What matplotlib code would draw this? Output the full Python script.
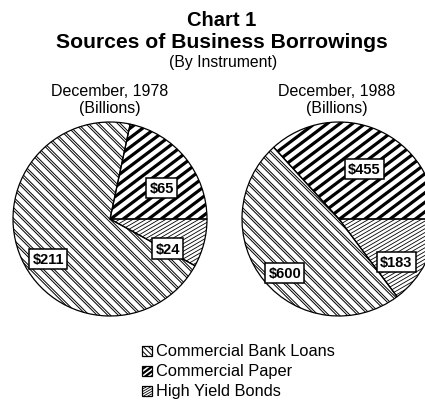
import numpy as np
import matplotlib
matplotlib.use("Agg")
import matplotlib.pyplot as plt
from matplotlib.collections import LineCollection
from matplotlib.patches import Rectangle

# ---- data ----
categories = ["Commercial Paper", "Commercial Bank Loans", "High Yield Bonds"]
years = ["December, 1978", "December, 1988"]
values_1978 = [65, 211, 24]
values_1988 = [455, 600, 183]
labels_1978 = ["$65", "$211", "$24"]
labels_1988 = ["$455", "$600", "$183"]
legend_order = ["Commercial Bank Loans", "Commercial Paper", "High Yield Bonds"]

W, H = 425, 410
fig = plt.figure(figsize=(W / 100, H / 100), dpi=100)
ax = fig.add_axes([0, 0, 1, 1])


def Y(y):
    return H - y


FONT = ['Liberation Sans Narrow', 'Liberation Sans', 'DejaVu Sans']

hatch_styles = {
    "Commercial Paper": dict(angle=37, spacing=7.6, lw=2.3, double=None),
    "Commercial Bank Loans": dict(angle=-45, spacing=7.5, lw=0.7, double=2.0),
    "High Yield Bonds": dict(angle=30, spacing=3.3, lw=0.6, double=None),
}


def hatch(ax, patch, bbox, angle, spacing, lw, double, zorder=2):
    x0, y0, x1, y1 = bbox
    cx, cy = (x0 + x1) / 2, (y0 + y1) / 2
    R = np.hypot(x1 - x0, y1 - y0) / 2 + spacing
    t = np.deg2rad(angle)
    d = np.array([np.cos(t), np.sin(t)])
    n = np.array([-np.sin(t), np.cos(t)])
    offs = np.arange(-R, R + spacing, spacing)
    if double:
        offs = np.concatenate([offs, offs + double])
    segs = [[(cx + o * n[0] - R * d[0], cy + o * n[1] - R * d[1]),
             (cx + o * n[0] + R * d[0], cy + o * n[1] + R * d[1])] for o in offs]
    lc = LineCollection(segs, colors='black', linewidths=lw, capstyle='butt', zorder=zorder)
    ax.add_collection(lc)
    lc.set_clip_path(patch)


radius = 97
pies = [
    (values_1978, labels_1978, (110, Y(220)),
     [(31, 0.62), (213, 0.76), (333, 0.67)], years[0], 110),
    (values_1988, labels_1988, (339, Y(220)),
     [(63, 0.58), (225, 0.79), (323, 0.74)], years[1], 337),
]

for vals, labs, center, lab_pos, title, tx in pies:
    wedges, _ = ax.pie(vals, startangle=0, counterclock=True, center=center,
                       radius=radius,
                       wedgeprops=dict(facecolor='white', edgecolor='none', zorder=1))
    cx, cy = center
    for w, cat in zip(wedges, categories):
        hatch(ax, w, (cx - radius, cy - radius, cx + radius, cy + radius),
              **hatch_styles[cat])
    ax.pie(vals, startangle=0, counterclock=True, center=center, radius=radius,
           wedgeprops=dict(fill=False, edgecolor='black', linewidth=0.9, zorder=3))
    for lab, (ang, fr) in zip(labs, lab_pos):
        a = np.deg2rad(ang)
        ax.text(cx + fr * radius * np.cos(a), cy + fr * radius * np.sin(a), lab,
                ha='center', va='center', fontsize=10.5, fontweight='bold',
                family=FONT, zorder=5,
                bbox=dict(boxstyle='square,pad=0.22', fc='white', ec='black', lw=1.1))
    ax.text(tx, Y(91), title, ha='center', va='center', fontsize=11.5,
            fontweight='medium', family=FONT)
    ax.text(tx, Y(108), "(Billions)", ha='center', va='center', fontsize=11.5,
            fontweight='medium', family=FONT)

# titles
ax.text(222, Y(21), "Chart 1", ha='center', va='center', fontsize=14.5,
        fontweight='bold', family=FONT)
ax.text(222, Y(43), "Sources of Business Borrowings", ha='center', va='center',
        fontsize=15.2, fontweight='bold', family=FONT)
ax.text(223, Y(62), "(By Instrument)", ha='center', va='center', fontsize=11.3,
        family=FONT)

# legend
for i, cat in enumerate(legend_order):
    yc = Y(352 + 20 * i)
    rect = Rectangle((142, yc - 5), 10, 10, facecolor='white', edgecolor='black',
                     lw=0.9, zorder=3)
    ax.add_patch(rect)
    st = dict(hatch_styles[cat])
    st['spacing'] = st['spacing'] * 0.5 if cat != "High Yield Bonds" else 2.2
    st['lw'] = st['lw'] * 0.7 if cat == "Commercial Paper" else st['lw']
    st['double'] = None
    hatch(ax, rect, (142, yc - 5, 152, yc + 5), zorder=4, **st)
    ax.text(156, yc, cat, ha='left', va='center', fontsize=11.8, family=FONT)

ax.set_xlim(0, W)
ax.set_ylim(0, H)
ax.set_aspect('auto')
ax.axis('off')

fig.savefig("out.png", dpi=100)
